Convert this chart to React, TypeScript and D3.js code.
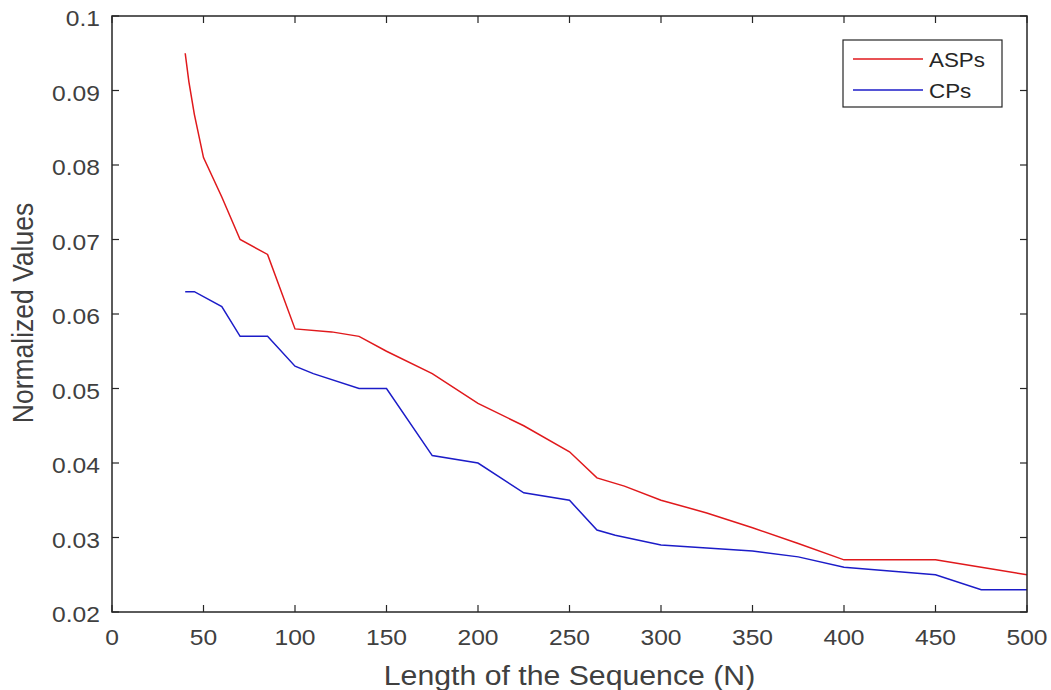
import React from "react";
import * as d3 from "d3";

const aspN = [40, 42, 45, 50, 60, 70, 85, 100, 120, 135, 150, 175, 200, 225, 250, 265, 280, 300, 325, 350, 375, 400, 450, 475, 500];
const aspV = [0.095, 0.0912, 0.0868, 0.081, 0.0757, 0.070, 0.068, 0.058, 0.0576, 0.057, 0.055, 0.052, 0.048, 0.045, 0.0415, 0.038, 0.0369, 0.035, 0.0333, 0.0313, 0.0292, 0.027, 0.027, 0.026, 0.025];
const cpN = [40, 45, 60, 70, 85, 100, 110, 135, 150, 175, 200, 225, 250, 265, 275, 300, 325, 350, 375, 400, 425, 450, 475, 500];
const cpV = [0.063, 0.063, 0.061, 0.057, 0.057, 0.053, 0.052, 0.050, 0.050, 0.041, 0.040, 0.036, 0.035, 0.031, 0.0303, 0.029, 0.0286, 0.0282, 0.0274, 0.026, 0.0255, 0.025, 0.023, 0.023];
const xTicks = [0, 50, 100, 150, 200, 250, 300, 350, 400, 450, 500];
const yTicks = [0.02, 0.03, 0.04, 0.05, 0.06, 0.07, 0.08, 0.09, 0.1];
const seriesNames = ["ASPs", "CPs"];
const seriesColors = ["#e0191c", "#1c1cc8"];

const SX = 1.12;

function T(props: { x: number; y: number; size: number; anchor?: string; fill?: string; rotate?: number; children: React.ReactNode }) {
  const { x, y, size, anchor = "start", fill = "#404040", rotate = 0, children } = props;
  const tr = rotate ? `translate(${x},${y}) rotate(${rotate}) scale(1,${SX})` : `translate(${x},${y}) scale(${SX},1)`;
  return (
    <g transform={tr}>
      <text x={0} y={0} fontSize={size} textAnchor={anchor as any} fill={fill}>{children}</text>
    </g>
  );
}

export default function App() {
  const W = 1051, H = 690;
  const left = 112, right = 1027, top = 16, bottom = 612;
  const x = d3.scaleLinear().domain([0, 500]).range([left, right]);
  const y = d3.scaleLinear().domain([0.02, 0.1]).range([bottom, top]);
  const line = d3.line<[number, number]>().x(d => x(d[0])).y(d => y(d[1]));
  const asp = aspN.map((n, i) => [n, aspV[i]] as [number, number]);
  const cp = cpN.map((n, i) => [n, cpV[i]] as [number, number]);
  const axisColor = "#262626";
  const tl = 7;
  const font = "'Liberation Sans', Arial, sans-serif";
  return (
    <svg width={W} height={H} style={{ position: "absolute", left: 0, top: 0, background: "#fff" }} fontFamily={font}>
      <rect x={0} y={0} width={W} height={H} fill="#fff" />
      <path d={line(asp) || ""} fill="none" stroke={seriesColors[0]} strokeWidth={1.5} />
      <path d={line(cp) || ""} fill="none" stroke={seriesColors[1]} strokeWidth={1.5} />
      <rect x={left} y={top} width={right - left} height={bottom - top} fill="none" stroke={axisColor} strokeWidth={1.5} />
      {xTicks.map(t => (
        <g key={"x" + t}>
          <line x1={x(t)} x2={x(t)} y1={bottom} y2={bottom - tl} stroke={axisColor} strokeWidth={1.2} />
          <line x1={x(t)} x2={x(t)} y1={top} y2={top + tl} stroke={axisColor} strokeWidth={1.2} />
          <T x={x(t)} y={645} size={22} anchor="middle">{t}</T>
        </g>
      ))}
      {yTicks.map(t => (
        <g key={"y" + t}>
          <line x1={left} x2={left + tl} y1={y(t)} y2={y(t)} stroke={axisColor} strokeWidth={1.2} />
          <line x1={right} x2={right - tl} y1={y(t)} y2={y(t)} stroke={axisColor} strokeWidth={1.2} />
          <T x={left - 12} y={y(t) + 10} size={22} anchor="end">{String(+t.toFixed(2))}</T>
        </g>
      ))}
      <T x={(left + right) / 2} y={685} size={27} anchor="middle">Length of the Sequence (N)</T>
      <T x={33} y={313} size={26.5} anchor="middle" rotate={-90}>Normalized Values</T>
      <rect x={843} y={40} width={159} height={67} fill="#fff" stroke={axisColor} strokeWidth={1.2} />
      {seriesNames.map((s, i) => (
        <g key={s}>
          <line x1={853} x2={923} y1={59 + i * 31} y2={59 + i * 31} stroke={seriesColors[i]} strokeWidth={1.5} />
          <T x={929} y={67 + i * 31} size={20} fill="#262626">{s}</T>
        </g>
      ))}
    </svg>
  );
}
